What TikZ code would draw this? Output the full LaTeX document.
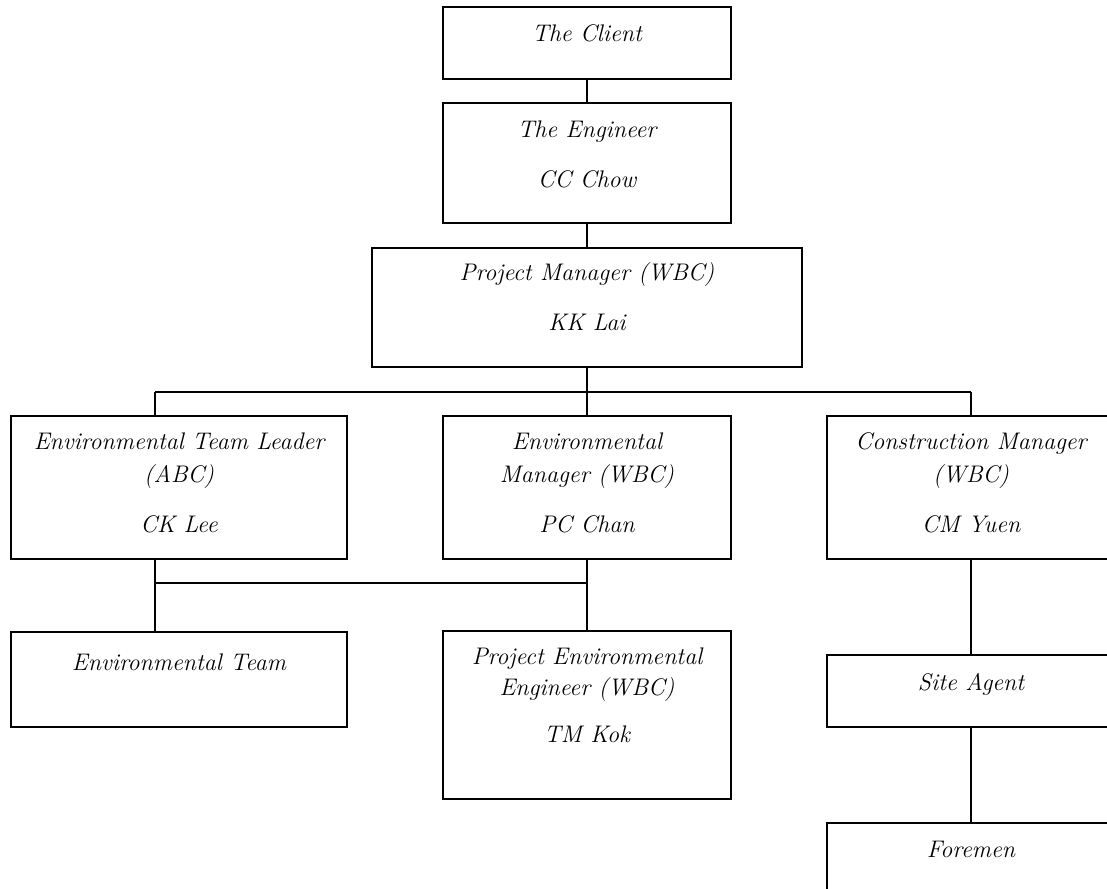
\documentclass[tikz,border=0pt]{standalone}
\begin{document}
\begin{tikzpicture}[x=1pt,y=-1pt,
  box/.style={draw, line width=1.8pt, rectangle, inner sep=0pt, outer sep=0pt, anchor=north west},
  txt/.style={anchor=base, inner sep=0pt, font=\fontsize{24}{28}\selectfont\itshape},
  conn/.style={line width=1.8pt}]
\useasboundingbox (0,0) rectangle (1107,888);
\clip (0,0) rectangle (1107,888);
% boxes
\node[box, minimum width=288pt, minimum height=72pt]  (client) at (443,7) {};
\node[box, minimum width=288pt, minimum height=120pt] (eng)    at (443,103) {};
\node[box, minimum width=430pt, minimum height=119pt] (pm)     at (372,248) {};
\node[box, minimum width=336pt, minimum height=143pt] (etl)    at (11,416) {};
\node[box, minimum width=288pt, minimum height=143pt] (em)     at (443,416) {};
\node[box, minimum width=288pt, minimum height=143pt] (cm)     at (827,416) {};
\node[box, minimum width=336pt, minimum height=95pt]  (et)     at (11,632) {};
\node[box, minimum width=288pt, minimum height=168pt] (pee)    at (443,631) {};
\node[box, minimum width=288pt, minimum height=72pt]  (sa)     at (827,655) {};
\node[box, minimum width=288pt, minimum height=90pt]  (fm)     at (827,823) {};
% texts
\node[txt] (t1)  at ([yshift=-35pt]client.north) {The Client};
\node[txt] (t2a) at ([yshift=-34pt]eng.north) {The Engineer};
\node[txt] (t2b) at ([yshift=-84pt]eng.north) {CC Chow};
\node[txt] (t3a) at ([yshift=-32pt]pm.north) {Project Manager (WBC)};
\node[txt] (t3b) at ([yshift=-82pt]pm.north) {KK Lai};
\node[txt] (t4a) at ([yshift=-33pt]etl.north) {Environmental Team Leader};
\node[txt] (t4b) at ([yshift=-66pt]etl.north) {(ABC)};
\node[txt] (t4c) at ([yshift=-116pt]etl.north) {CK Lee};
\node[txt] (t5a) at ([yshift=-33pt]em.north) {Environmental};
\node[txt] (t5b) at ([yshift=-66pt]em.north) {Manager (WBC)};
\node[txt] (t5c) at ([yshift=-116pt]em.north) {PC Chan};
\node[txt] (t6a) at ([yshift=-33pt]cm.north) {Construction Manager};
\node[txt] (t6b) at ([yshift=-66pt]cm.north) {(WBC)};
\node[txt] (t6c) at ([yshift=-116pt]cm.north) {CM Yuen};
\node[txt] (t7)  at ([yshift=-38pt]et.north) {Environmental Team};
\node[txt] (t8a) at ([yshift=-33pt]pee.north) {Project Environmental};
\node[txt] (t8b) at ([yshift=-64pt]pee.north) {Engineer (WBC)};
\node[txt] (t8c) at ([yshift=-111pt]pee.north) {TM Kok};
\node[txt] (t9)  at ([yshift=-35pt]sa.north) {Site Agent};
\node[txt] (t10) at ([yshift=-34pt]fm.north) {Foremen};
% junctions
\coordinate (b1) at (155,392);
\coordinate (b2) at (587,392);
\coordinate (b3) at (971,392);
\coordinate (c1) at (155,583);
\coordinate (c2) at (587,583);
% connectors
\draw[conn] (client.south) -- (eng.north);
\draw[conn] (eng.south) -- (pm.north);
\draw[conn] (pm.south) -- (b2);
\draw[conn] (b1) -- (b3);
\draw[conn] (b1) -- (b1 |- etl.north);
\draw[conn] (b2) -- (em.north);
\draw[conn] (b3) -- (cm.north);
\draw[conn] (c1 |- etl.south) -- (c1 |- et.north);
\draw[conn] (c1) -- (c2);
\draw[conn] (em.south) -- (pee.north);
\draw[conn] (cm.south) -- (sa.north);
\draw[conn] (sa.south) -- (fm.north);
\end{tikzpicture}
\end{document}
